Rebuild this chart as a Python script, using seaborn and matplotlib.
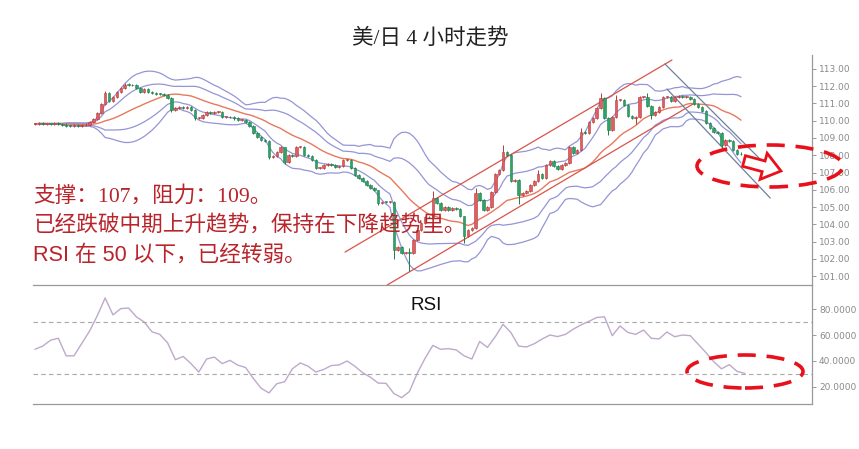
import numpy as np
import pandas as pd
import matplotlib
matplotlib.use('Agg')
import matplotlib.pyplot as plt
import matplotlib.patches as mpatches
from matplotlib.transforms import IdentityTransform
import seaborn as sns

# 4h USD/JPY candles (close of each bar, open = previous close)
first_open = 109.80
closes = [
    109.82, 109.84, 109.80, 109.83, 109.81, 109.84, 109.80, 109.78, 109.72, 109.70,
    109.73, 109.70, 109.74, 109.78, 109.90, 110.08, 110.45, 110.97, 111.60, 111.14,
    111.38, 111.67, 111.90, 112.10, 112.07, 112.05, 111.90, 111.67, 111.84, 111.67,
    111.60, 111.56, 111.54, 111.50, 111.32, 110.62, 110.74, 110.80, 110.76, 110.80,
    110.62, 110.16, 110.16, 110.33, 110.50, 110.45, 110.50, 110.50, 110.22, 110.22,
    110.20, 110.13, 110.04, 110.06, 109.95, 109.70, 109.29, 109.06, 108.90, 108.80,
    107.92, 107.95, 108.19, 108.48, 107.60, 108.00, 107.98, 108.48, 108.48, 108.00,
    107.98, 107.72, 107.26, 107.28, 107.43, 107.50, 107.45, 107.34, 107.40, 107.72,
    107.72, 107.26, 106.86, 106.68, 106.53, 106.30, 106.12, 105.99, 105.23, 105.31,
    105.30, 105.31, 102.50, 102.70, 102.33, 102.35, 102.33, 103.10, 103.67, 104.07,
    104.42, 104.40, 105.52, 105.23, 104.83, 105.00, 104.85, 104.94, 104.90, 104.48,
    103.30, 103.67, 103.80, 105.80, 105.40, 104.83, 105.00, 105.87, 106.90, 107.14,
    108.19, 108.00, 106.50, 106.57, 105.70, 105.80, 105.93, 106.28, 106.50, 106.90,
    106.68, 107.43, 107.67, 107.38, 107.20, 107.43, 107.55, 108.48, 108.13, 108.30,
    109.35, 109.30, 109.93, 110.16, 110.74, 111.32, 110.16, 109.46, 110.22, 111.20,
    111.20, 110.90, 110.30, 110.16, 110.20, 111.38, 111.40, 110.86, 110.33, 110.50,
    110.80, 111.38, 111.40, 111.15, 111.40, 111.43, 111.40, 111.40, 111.26, 110.97,
    110.80, 110.57, 109.87, 109.58, 109.35, 109.29, 108.60, 108.88, 108.85, 108.30,
    108.10, 108.05,
]
# bars with a visible shadow
wick_high = {18: 111.70, 35: 111.35, 64: 108.50, 88: 106.00, 92: 105.35, 96: 102.60,
             102: 105.90, 110: 104.50, 113: 106.10, 120: 108.60, 129: 107.14,
             140: 109.60, 145: 111.60, 149: 111.50, 157: 111.60}
wick_low = {35: 110.50, 41: 110.05, 60: 107.80, 64: 107.50, 88: 105.10, 92: 102.00,
            96: 101.30, 110: 102.90, 124: 105.20, 147: 109.20, 154: 109.80,
            158: 110.10, 176: 108.40}

# RSI line, one reading every second bar
rsi_values = [
    49, 51.5, 56, 57.5, 44, 44, 53.5, 63, 75, 88.5,
    75.5, 80.3, 80.8, 74, 70, 62.5, 60.5, 54, 41, 43.5,
    38, 31.5, 41.5, 43, 38, 40.5, 36.8, 35, 26.5, 19,
    15.4, 22.5, 24, 34, 38.5, 36, 31.5, 33.5, 36.5, 37,
    40, 36, 31, 27.5, 23, 22.8, 15, 11.8, 16.5, 30.5,
    42, 52, 49, 49.5, 48.5, 44, 41.5, 55, 50.5, 58.7,
    68.2, 62, 51.5, 50.8, 53.3, 56.9, 60, 58.8, 60.5, 64.5,
    67.8, 70.5, 73.5, 74, 59.5, 67, 62, 60.5, 63.8, 57.5,
    57, 62.3, 58.7, 60, 59.5, 53, 46.5, 39.5, 34, 37.2,
    32, 30.5,
]

price_ticks = list(range(101, 114))
rsi_ticks = [20, 40, 60, 80]
rsi_levels = [70, 30]

# hand-drawn trend lines: (bar, price) end points
up_channel = [((79.5, 102.39), (163.3, 113.52)), ((90.3, 100.48), (168.7, 110.97))]
down_channel = [((161.5, 113.29), (189.2, 107.03)), ((162.0, 111.84), (188.5, 105.52))]

title = '美/日 4 小时走势'
notes = ['支撑：107，阻力：109。',
         '已经跌破中期上升趋势，保持在下降趋势里。',
         'RSI 在 50 以下，已经转弱。']

sns.set_theme(style='white')
plt.rcParams['font.family'] = ['DejaVu Sans', 'Noto Sans CJK SC']

W, H = 859, 449
fig = plt.figure(figsize=(W / 100, H / 100), dpi=100)
ax = fig.add_axes([33 / W, 1 - 285 / H, (812 - 33) / W, (285 - 55) / H])
ax_rsi = fig.add_axes([33 / W, 1 - 404 / H, (812 - 33) / W, (404 - 285) / H])

df = pd.DataFrame({'close': closes})
df['open'] = [first_open] + closes[:-1]
df['high'] = df[['open', 'close']].max(axis=1) + 0.06
df['low'] = df[['open', 'close']].min(axis=1) - 0.06
for k, v in wick_high.items():
    df.loc[k, 'high'] = v
for k, v in wick_low.items():
    df.loc[k, 'low'] = v
df['bar'] = np.arange(len(df))

# bollinger style bands
mid = df['close'].rolling(20, min_periods=1).mean()
sd = df['close'].rolling(20, min_periods=1).std(ddof=0).fillna(0)
band_color = '#9595d6'
for line in [mid + 2 * sd, mid + 1.1 * sd, mid - 1.1 * sd, mid - 2 * sd]:
    sns.lineplot(x=df['bar'], y=line, ax=ax, color=band_color, lw=0.9, zorder=2)
sns.lineplot(x=df['bar'], y=mid, ax=ax, color='#e7795c', lw=1.0, zorder=2)

# candles
up = df['close'] >= df['open']
edge = np.where(up, '#b83a3a', '#1f7d4b')
face = np.where(up, '#de5f5f', '#2ca465')
ax.vlines(df['bar'], df['low'], df['high'], colors=edge, lw=0.7, zorder=3)
body = np.maximum((df['close'] - df['open']).abs(), 0.04)
ax.bar(df['bar'], body, bottom=df[['open', 'close']].min(axis=1), width=0.65,
       color=face, edgecolor=edge, linewidth=0.4, zorder=4)

for (x0, y0), (x1, y1) in up_channel:
    ax.plot([x0, x1], [y0, y1], color='#d9534a', lw=0.9, zorder=2, clip_on=False)
for (x0, y0), (x1, y1) in down_channel:
    ax.plot([x0, x1], [y0, y1], color='#6d819c', lw=0.9, zorder=2, clip_on=False)

ax.set_xlim(-0.5, 199.2)
ax.set_ylim(100.48, 113.81)
ax.set_yticks(price_ticks)
ax.set_yticklabels([f'{t:.2f}' for t in price_ticks])

# RSI panel
rsi_x = np.arange(0, 2 * len(rsi_values), 2)
sns.lineplot(x=rsi_x, y=rsi_values, ax=ax_rsi, color='#bea9cc', lw=1.0)
for lv in rsi_levels:
    ax_rsi.axhline(lv, color='#a8a8a8', lw=0.8, ls=(0, (4, 3)))
ax_rsi.set_xlim(-0.5, 199.2)
ax_rsi.set_ylim(6.9, 98.5)
ax_rsi.set_yticks(rsi_ticks)
ax_rsi.set_yticklabels([f'{t:.4f}' for t in rsi_ticks])

for a in (ax, ax_rsi):
    a.set_xlabel('')
    a.set_ylabel('')
    a.set_xticks([])
    a.yaxis.tick_right()
    a.tick_params(axis='y', colors='#8a8a8a', labelsize=6.5, length=3, width=0.6, pad=2)
    for s in ('top', 'left'):
        a.spines[s].set_visible(False)
    for s in ('right', 'bottom'):
        a.spines[s].set_color('#999999')
        a.spines[s].set_linewidth(0.9)
    a.patch.set_alpha(0)

# texts
serif = ['Liberation Serif', 'Noto Sans CJK SC']
sans = ['Liberation Sans', 'Noto Sans CJK SC']
red = '#b9242b'
fig.text(430 / W, 1 - 38 / H, title, ha='center', va='center', fontsize=15.5,
         family=serif, color='#222222')
fig.text(33 / W, 1 - 196 / H, notes[0], ha='left', va='center', fontsize=15.6, family=serif, color=red)
fig.text(33 / W, 1 - 225 / H, notes[1], ha='left', va='center', fontsize=15.6, family=serif, color=red)
fig.text(33 / W, 1 - 255 / H, notes[2], ha='left', va='center', fontsize=15.6, family=sans, color=red)
fig.text(426 / W, 1 - 305 / H, 'RSI', ha='center', va='center', fontsize=13.5,
         family=sans, color='#111111')

# red marks drawn on top
mark = '#e8101a'
fig.add_artist(mpatches.Ellipse((770, H - 166), 146, 42, fill=False, ec=mark, lw=2.6,
                                ls=(0, (5, 3)), transform=IdentityTransform()))
fig.add_artist(mpatches.Ellipse((745, H - 371.5), 116, 33, fill=False, ec=mark, lw=2.6,
                                ls=(0, (5, 3)), transform=IdentityTransform()))
fig.add_artist(mpatches.FancyArrow(744, H - 161, 37, -10, width=11, head_width=27,
                                   head_length=18, length_includes_head=True,
                                   fc='white', ec=mark, lw=2.0, transform=IdentityTransform()))

fig.savefig('out.png', dpi=100, facecolor='white')
